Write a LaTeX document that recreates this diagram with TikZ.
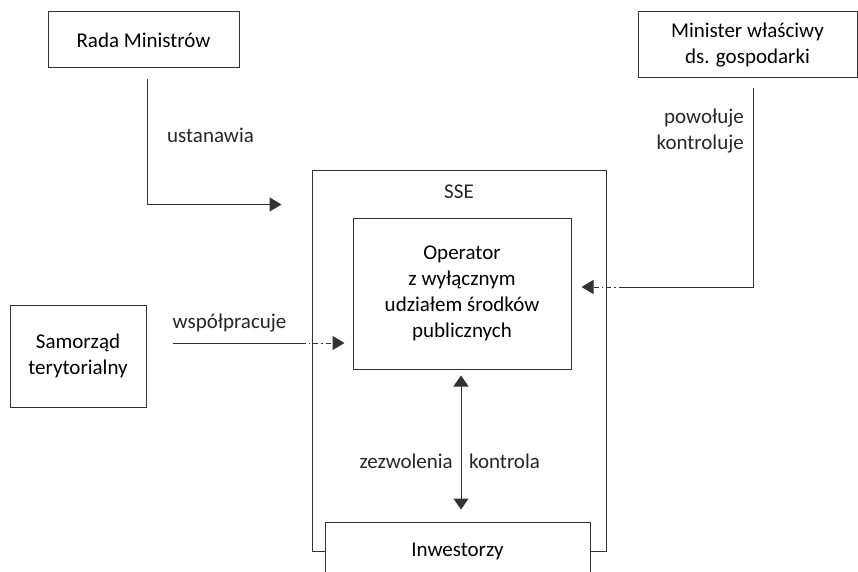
\documentclass[tikz,border=0pt]{standalone}
\usepackage{fontspec}
\setmainfont{Carlito}
\usepackage{tikz}
\colorlet{linegray}{black!80}
\tikzset{>=latex}
\usetikzlibrary{arrows.meta, positioning, calc}
\tikzset{
  box/.style={draw=linegray, line width=1pt, fill=white, align=center, inner sep=0pt},
  conn/.style={linegray, line width=1pt},
  tip/.style={-{Triangle[length=12pt,width=14pt]}},
  dashdot/.style={dash pattern=on 5pt off 3pt on 1.5pt off 3pt},
  lbl/.style={inner sep=0pt, text=black!85}
}

\begin{document}
\begin{tikzpicture}[x=1pt, y=-1pt, font=\fontsize{21}{26}\selectfont]
\clip (0,0) rectangle (858,572);
\fill[white] (0,0) rectangle (858,572);

% SSE (outer box)
\node[box, minimum width=294pt, minimum height=381pt] (sse) at (459,360.5) {};
\node[lbl, anchor=base] (ssetitle) at (459,198) {SSE};

% Operator inside SSE
\node[box, minimum width=218pt, minimum height=151pt] (operator) at (462,293.5)
  {Operator\\z wyłącznym\\udziałem środków\\publicznych};

% Inwestorzy (covers the bottom of SSE)
\node[box, minimum width=265pt, minimum height=58pt] (inwestorzy) at (457.5,551) {Inwestorzy};

% Outside actors
\node[box, minimum width=191pt, minimum height=56pt] (rada) at (143.5,40) {Rada Ministrów};
\node[box, minimum width=219pt, minimum height=66pt] (minister) at (747.5,45)
  {Minister właściwy\\ds. gospodarki};
\node[box, minimum width=136pt, minimum height=102pt] (samorzad) at (78,356)
  {Samorząd\\terytorialny};

% ustanawia
\coordinate (ustStart) at ([xshift=3.5pt,yshift=-11pt]rada.south);
\coordinate (ustEnd) at ($(sse.north west)+(-30,35)$);
\draw[conn, tip] (ustStart) |- (ustEnd);
\node[lbl, anchor=base west] (ustLbl) at ($(ustStart)+(20,63)$) {ustanawia};

% powołuje / kontroluje
\coordinate (minStart) at ([xshift=5.5pt,yshift=-10pt]minister.south);
\coordinate (minMid) at ($(operator.east)+(52,-6.5)$);
\coordinate (minEnd) at ($(operator.east)+(10,-6.5)$);
\draw[conn] (minStart) |- (minMid);
\draw[conn, dashdot, tip] (minMid) -- (minEnd);
\node[lbl, align=right, anchor=east] (minLbl) at ($(minStart)+(-9,43)$) {powołuje\\kontroluje};

% współpracuje
\coordinate (wspStart) at ($(samorzad.east)+(26,-13)$);
\coordinate (wspMid) at ($(wspStart)+(128,0)$);
\coordinate (wspEnd) at ($(operator.west |- wspStart)+(-8,0)$);
\draw[conn] (wspStart) -- (wspMid);
\draw[conn, dashdot, tip] (wspMid) -- (wspEnd);
\node[lbl, anchor=base west] (wspLbl) at ($(wspStart)+(0,-15)$) {współpracuje};

% zezwolenia / kontrola
\coordinate (kTop) at ([xshift=-1pt,yshift=-6pt]operator.south);
\coordinate (kBot) at ($(kTop |- inwestorzy.north)+(0,-12)$);
\draw[conn, {Triangle[length=11pt,width=15pt]}-{Triangle[length=11pt,width=15pt]}] (kTop) -- (kBot);
\node[lbl, anchor=base east] (zezLbl) at ($(kTop)+(-8,93)$) {zezwolenia};
\node[lbl, anchor=base west] (kontLbl) at ($(kTop)+(8,93)$) {kontrola};

\end{tikzpicture}
\end{document}
